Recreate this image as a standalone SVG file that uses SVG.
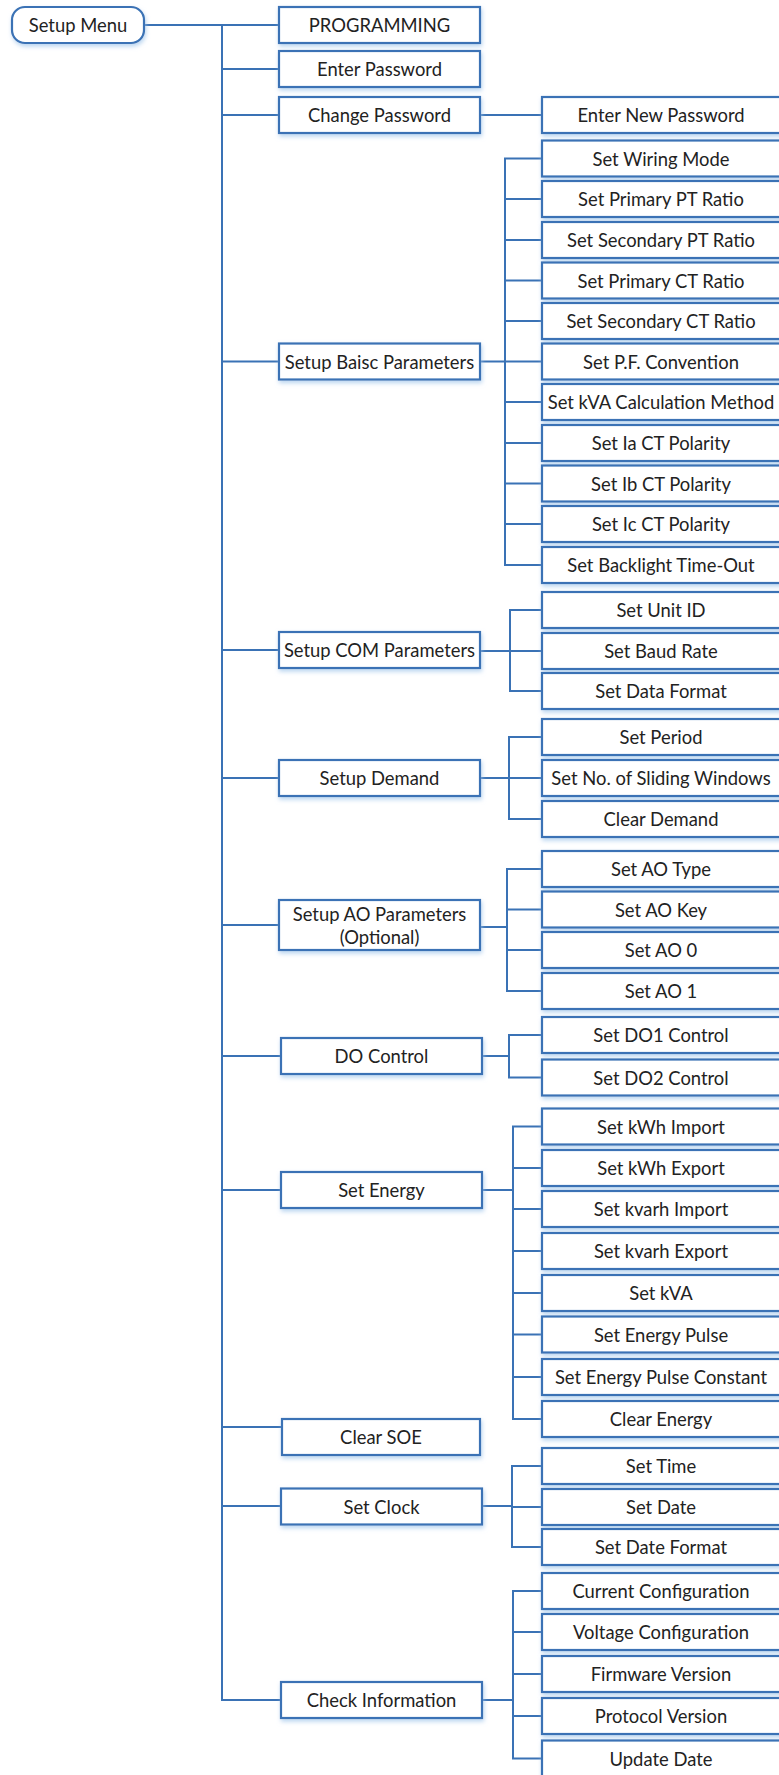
<svg xmlns="http://www.w3.org/2000/svg" width="779" height="1775" viewBox="0 0 779 1775">
<defs>
<filter id="sh" x="-10%" y="-30%" width="120%" height="170%">
<feDropShadow dx="1" dy="2.5" stdDeviation="2" flood-color="#9cc3ea" flood-opacity="0.7"/>
</filter>
</defs>
<style>
.b{fill:#fff;stroke:#3a72b5;stroke-width:2.2;filter:url(#sh)}
.t{font-family:Lato,"Open Sans",sans-serif;font-size:18.4px;fill:#222;text-anchor:middle;dominant-baseline:central}
.c{fill:none;stroke:#3a72b5;stroke-width:2}
</style>
<rect width="779" height="1775" fill="#fff"/>
<g id="connectors" class="c">
<path d="M144 25H279M222 25V1700H281M222 69H279M222 115H279M222 361.5H279M222 650H279M222 778H279M222 925H279M222 1056H281M222 1190H281M222 1427H282M222 1506H281"/>
<path d="M480 115H542"/>
<path d="M480 361.5H505M542 158.5H505V565H542M505 199H542M505 240H542M505 280.5H542M505 321H542M505 361.5H542M505 402H542M505 443H542M505 483.5H542M505 524H542"/>
<path d="M480 651H510M542 610H510V691H542M510 651H542"/>
<path d="M480 778H509M542 737H509V819H542M509 778H542"/>
<path d="M480 927H507M542 869H507V991H542M507 909.5H542M507 950H542"/>
<path d="M482 1056H509M542 1035H509V1077.5H542"/>
<path d="M482 1190H513M542 1126.5H513V1419H542M513 1168H542M513 1209H542M513 1251H542M513 1293H542M513 1334.5H542M513 1377H542"/>
<path d="M482 1506H512M542 1466H512V1547H542M512 1507H542"/>
<path d="M482 1700H513M542 1591H513V1758.5H542M513 1632H542M513 1674H542M513 1716H542"/>
</g>
<g id="n-setup-menu"><rect class="b" x="12" y="7" width="132" height="36" rx="13"/><text class="t" x="78" y="25">Setup Menu</text></g>
<g id="n-programming"><rect class="b" x="279" y="7" width="201" height="36"/><text class="t" x="379.5" y="25">PROGRAMMING</text></g>
<g id="n-enter-password"><rect class="b" x="279" y="51" width="201" height="36"/><text class="t" x="379.5" y="69">Enter Password</text></g>
<g id="n-change-password"><rect class="b" x="279" y="97" width="201" height="36"/><text class="t" x="379.5" y="115">Change Password</text></g>
<g id="n-setup-basic"><rect class="b" x="279" y="343.5" width="201" height="36"/><text class="t" x="379.5" y="361.5">Setup Baisc Parameters</text></g>
<g id="n-setup-com"><rect class="b" x="279" y="632" width="201" height="36"/><text class="t" x="379.5" y="650">Setup COM Parameters</text></g>
<g id="n-setup-demand"><rect class="b" x="279" y="760" width="201" height="36"/><text class="t" x="379.5" y="778">Setup Demand</text></g>
<g id="n-setup-ao"><rect class="b" x="279" y="900" width="201" height="50"/><text class="t" x="379.5" y="914">Setup AO Parameters</text><text class="t" x="379.5" y="937">(Optional)</text></g>
<g id="n-do-control"><rect class="b" x="281" y="1038" width="201" height="36"/><text class="t" x="381.5" y="1056">DO Control</text></g>
<g id="n-set-energy"><rect class="b" x="281" y="1172" width="201" height="36"/><text class="t" x="381.5" y="1190">Set Energy</text></g>
<g id="n-clear-soe"><rect class="b" x="282" y="1419" width="198" height="36"/><text class="t" x="381" y="1437">Clear SOE</text></g>
<g id="n-set-clock"><rect class="b" x="281" y="1488.5" width="201" height="36"/><text class="t" x="381.5" y="1506.5">Set Clock</text></g>
<g id="n-check-info"><rect class="b" x="281" y="1682" width="201" height="36"/><text class="t" x="381.5" y="1700">Check Information</text></g>
<g id="n-enter-new-password"><rect class="b" x="542" y="97" width="240" height="36"/><text class="t" x="661" y="115">Enter New Password</text></g>
<g id="n-wiring"><rect class="b" x="542" y="140.5" width="240" height="36"/><text class="t" x="661" y="158.5">Set Wiring Mode</text></g>
<g id="n-ppt"><rect class="b" x="542" y="181" width="240" height="36"/><text class="t" x="661" y="199">Set Primary PT Ratio</text></g>
<g id="n-spt"><rect class="b" x="542" y="222" width="240" height="36"/><text class="t" x="661" y="240">Set Secondary PT Ratio</text></g>
<g id="n-pct"><rect class="b" x="542" y="262.5" width="240" height="36"/><text class="t" x="661" y="280.5">Set Primary CT Ratio</text></g>
<g id="n-sct"><rect class="b" x="542" y="303" width="240" height="36"/><text class="t" x="661" y="321">Set Secondary CT Ratio</text></g>
<g id="n-pf"><rect class="b" x="542" y="343.5" width="240" height="36"/><text class="t" x="661" y="361.5">Set P.F. Convention</text></g>
<g id="n-kva-calc"><rect class="b" x="542" y="384" width="240" height="36"/><text class="t" x="661" y="402">Set kVA Calculation Method</text></g>
<g id="n-ia"><rect class="b" x="542" y="425" width="240" height="36"/><text class="t" x="661" y="443">Set Ia CT Polarity</text></g>
<g id="n-ib"><rect class="b" x="542" y="465.5" width="240" height="36"/><text class="t" x="661" y="483.5">Set Ib CT Polarity</text></g>
<g id="n-ic"><rect class="b" x="542" y="506" width="240" height="36"/><text class="t" x="661" y="524">Set Ic CT Polarity</text></g>
<g id="n-backlight"><rect class="b" x="542" y="547" width="240" height="36"/><text class="t" x="661" y="565">Set Backlight Time-Out</text></g>
<g id="n-unit-id"><rect class="b" x="542" y="592" width="240" height="36"/><text class="t" x="661" y="610">Set Unit ID</text></g>
<g id="n-baud"><rect class="b" x="542" y="633" width="240" height="36"/><text class="t" x="661" y="651">Set Baud Rate</text></g>
<g id="n-data-format"><rect class="b" x="542" y="673" width="240" height="36"/><text class="t" x="661" y="691">Set Data Format</text></g>
<g id="n-period"><rect class="b" x="542" y="719" width="240" height="36"/><text class="t" x="661" y="737">Set Period</text></g>
<g id="n-sliding"><rect class="b" x="542" y="760" width="240" height="36"/><text class="t" x="661" y="778">Set No. of Sliding Windows</text></g>
<g id="n-clear-demand"><rect class="b" x="542" y="801" width="240" height="36"/><text class="t" x="661" y="819">Clear Demand</text></g>
<g id="n-ao-type"><rect class="b" x="542" y="851" width="240" height="36"/><text class="t" x="661" y="869">Set AO Type</text></g>
<g id="n-ao-key"><rect class="b" x="542" y="891.5" width="240" height="36"/><text class="t" x="661" y="909.5">Set AO Key</text></g>
<g id="n-ao0"><rect class="b" x="542" y="932" width="240" height="36"/><text class="t" x="661" y="950">Set AO 0</text></g>
<g id="n-ao1"><rect class="b" x="542" y="973" width="240" height="36"/><text class="t" x="661" y="991">Set AO 1</text></g>
<g id="n-do1"><rect class="b" x="542" y="1017" width="240" height="36"/><text class="t" x="661" y="1035">Set DO1 Control</text></g>
<g id="n-do2"><rect class="b" x="542" y="1059.5" width="240" height="36"/><text class="t" x="661" y="1077.5">Set DO2 Control</text></g>
<g id="n-kwh-imp"><rect class="b" x="542" y="1108.5" width="240" height="36"/><text class="t" x="661" y="1126.5">Set kWh Import</text></g>
<g id="n-kwh-exp"><rect class="b" x="542" y="1150" width="240" height="36"/><text class="t" x="661" y="1168">Set kWh Export</text></g>
<g id="n-kvarh-imp"><rect class="b" x="542" y="1191" width="240" height="36"/><text class="t" x="661" y="1209">Set kvarh Import</text></g>
<g id="n-kvarh-exp"><rect class="b" x="542" y="1233" width="240" height="36"/><text class="t" x="661" y="1251">Set kvarh Export</text></g>
<g id="n-kva"><rect class="b" x="542" y="1275" width="240" height="36"/><text class="t" x="661" y="1293">Set kVA</text></g>
<g id="n-pulse"><rect class="b" x="542" y="1316.5" width="240" height="36"/><text class="t" x="661" y="1334.5">Set Energy Pulse</text></g>
<g id="n-pulse-const"><rect class="b" x="542" y="1359" width="240" height="36"/><text class="t" x="661" y="1377">Set Energy Pulse Constant</text></g>
<g id="n-clear-energy"><rect class="b" x="542" y="1401" width="240" height="36"/><text class="t" x="661" y="1419">Clear Energy</text></g>
<g id="n-time"><rect class="b" x="542" y="1448" width="240" height="36"/><text class="t" x="661" y="1466">Set Time</text></g>
<g id="n-date"><rect class="b" x="542" y="1489" width="240" height="36"/><text class="t" x="661" y="1507">Set Date</text></g>
<g id="n-date-format"><rect class="b" x="542" y="1529" width="240" height="36"/><text class="t" x="661" y="1547">Set Date Format</text></g>
<g id="n-current-config"><rect class="b" x="542" y="1573" width="240" height="36"/><text class="t" x="661" y="1591">Current Configuration</text></g>
<g id="n-voltage-config"><rect class="b" x="542" y="1614" width="240" height="36"/><text class="t" x="661" y="1632">Voltage Configuration</text></g>
<g id="n-firmware"><rect class="b" x="542" y="1656" width="240" height="36"/><text class="t" x="661" y="1674">Firmware Version</text></g>
<g id="n-protocol"><rect class="b" x="542" y="1698" width="240" height="36"/><text class="t" x="661" y="1716">Protocol Version</text></g>
<g id="n-update-date"><rect class="b" x="542" y="1740.5" width="240" height="40"/><text class="t" x="661" y="1758.5">Update Date</text></g>
</svg>
